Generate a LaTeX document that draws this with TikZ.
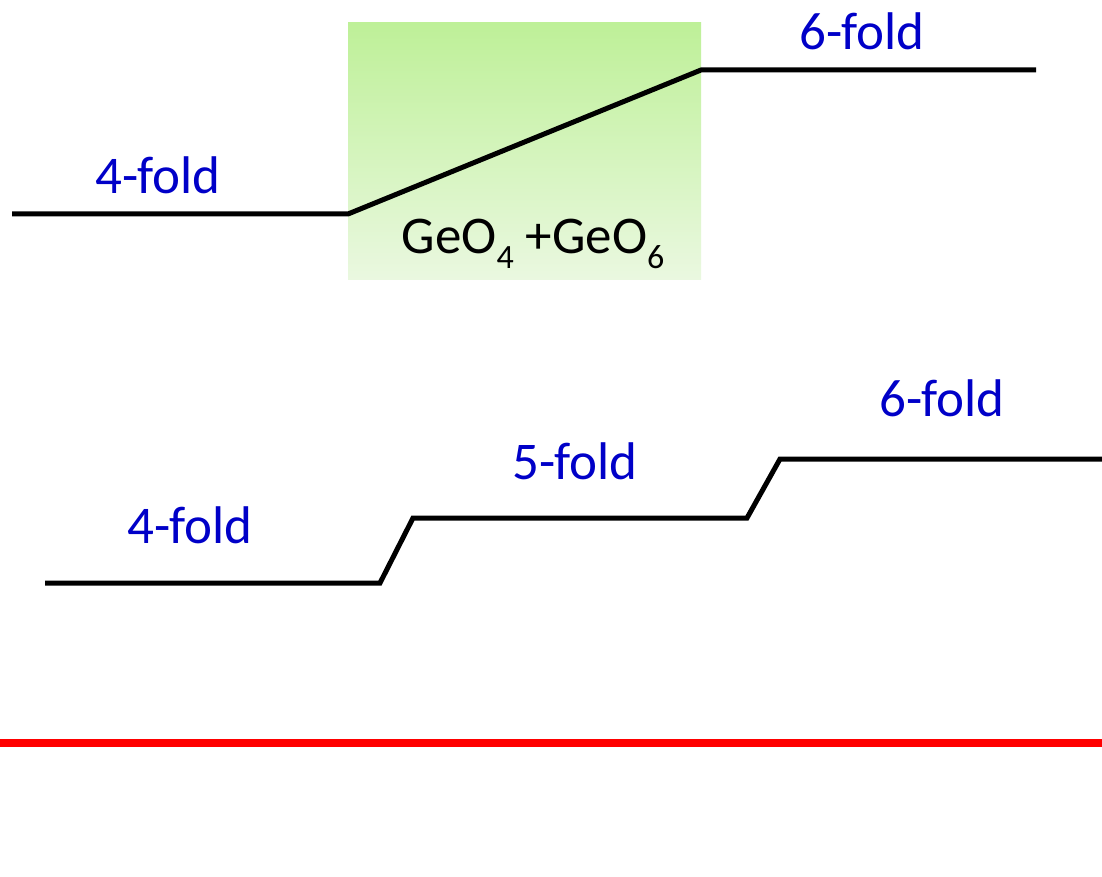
\documentclass[tikz,border=0pt]{standalone}
\usepackage{fontspec}
\setmainfont{Carlito}
\newcommand{\mysub}[1]{\raisebox{-0.28em}{\fontsize{34}{38}\selectfont #1}}
\begin{document}
\begin{tikzpicture}[x=1pt,y=-1pt,
  lvl/.style={line width=5pt, line join=miter, black},
  lbl/.style={text={rgb,255:red,0;green,0;blue,200}, font=\fontsize{53}{58}\selectfont, inner sep=0pt},
  mix/.style={text=black, font=\fontsize{53}{58}\selectfont, inner sep=0pt}]
\useasboundingbox (0,0) rectangle (1102,877);
\fill[white] (0,0) rectangle (1102,877);
% green box
\shade[top color={rgb,255:red,190;green,240;blue,152}, bottom color={rgb,255:red,234;green,248;blue,224}] (348,23) rectangle (701,279);
\node[mix] (mixlbl) at (533,244) {GeO\mysub{4} +GeO\mysub{6}};
% top path
\coordinate (t1) at (12,214);
\coordinate (t2) at (348,214);
\coordinate (t3) at (701,70);
\coordinate (t4) at (1036,70);
\draw[lvl] (t1) -- (t2) -- (t3) -- (t4);
\node[lbl] (a4) at (158,175) {4-fold};
\node[lbl] (a6) at (862,31) {6-fold};
% middle path
\coordinate (m1) at (45,583);
\coordinate (m2) at (380,583);
\coordinate (m3) at (413,518);
\coordinate (m4) at (747,518);
\coordinate (m5) at (780,459);
\coordinate (m6) at (1102,459);
\draw[lvl] (m1) -- (m2) -- (m3) -- (m4) -- (m5) -- (m6);
\node[lbl] (b4) at (190,525) {4-fold};
\node[lbl] (b5) at (575,461) {5-fold};
\node[lbl] (b6) at (942,398) {6-fold};
% red line
\coordinate (r1) at (0,743);
\coordinate (r2) at (1102,743);
\draw[red, line width=8pt] (r1) -- (r2);
\end{tikzpicture}
\end{document}
